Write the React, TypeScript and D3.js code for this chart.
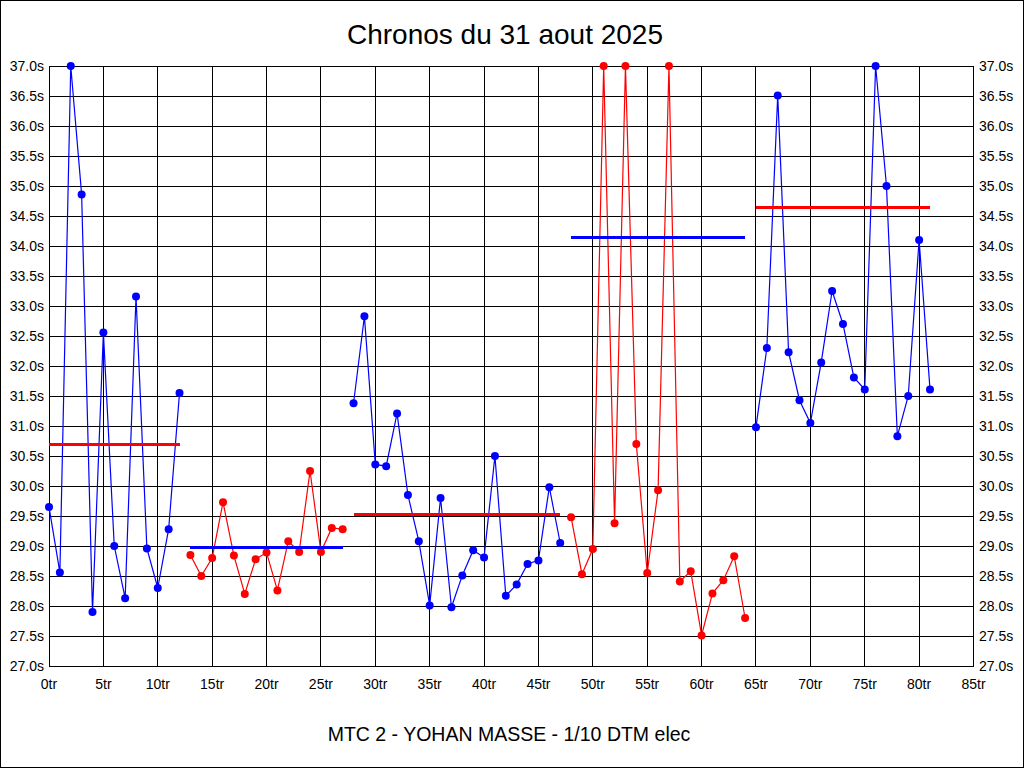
import React from "react";
import * as d3 from "d3";

// Lap times per run (seconds); points above 37.0 are shown clipped at 37.0
const run1Laps = [0, 1, 2, 3, 4, 5, 6, 7, 8, 9, 10, 11, 12];
const run1Times = [29.65, 28.56, 37.0, 34.86, 27.9, 32.56, 29.0, 28.13, 33.16, 28.96, 28.3, 29.28, 31.55];

const run2Laps = [13, 14, 15, 16, 17, 18, 19, 20, 21, 22, 23, 24, 25, 26, 27];
const run2Times = [28.85, 28.5, 28.8, 29.73, 28.84, 28.2, 28.78, 28.89, 28.26, 29.08, 28.9, 30.25, 28.9, 29.3, 29.28];

const run3Laps = [28, 29, 30, 31, 32, 33, 34, 35, 36, 37, 38, 39, 40, 41, 42, 43, 44, 45, 46, 47];
const run3Times = [31.38, 32.83, 30.36, 30.33, 31.21, 29.85, 29.08, 28.01, 29.8, 27.98, 28.51, 28.93, 28.81, 30.5, 28.17, 28.36, 28.7, 28.76, 29.98, 29.05];

const run4Laps = [48, 49, 50, 51, 52, 53, 54, 55, 56, 57, 58, 59, 60, 61, 62, 63, 64];
const run4Times = [29.48, 28.53, 28.95, 37.0, 29.38, 37.0, 30.7, 28.55, 29.93, 37.0, 28.41, 28.58, 27.51, 28.21, 28.43, 28.83, 27.8];

const run5Laps = [65, 66, 67, 68, 69, 70, 71, 72, 73, 74, 75, 76, 77, 78, 79, 80, 81];
const run5Times = [30.98, 32.3, 36.51, 32.23, 31.43, 31.05, 32.06, 33.25, 32.7, 31.81, 31.61, 37.0, 35.0, 30.83, 31.5, 34.1, 31.61];

const runAverages = [30.7, 28.97, 29.53, 34.15, 34.65];
const runColors = ["#0000ff", "#ff0000", "#0000ff", "#ff0000", "#0000ff"];
const avgColors = ["#ff0000", "#0000ff", "#ff0000", "#0000ff", "#ff0000"];

const xTicks = [0, 5, 10, 15, 20, 25, 30, 35, 40, 45, 50, 55, 60, 65, 70, 75, 80, 85];
const yTicks = [27.0, 27.5, 28.0, 28.5, 29.0, 29.5, 30.0, 30.5, 31.0, 31.5, 32.0, 32.5, 33.0, 33.5, 34.0, 34.5, 35.0, 35.5, 36.0, 36.5, 37.0];

const title = "Chronos du 31 aout 2025";
const subtitle = "MTC 2 - YOHAN MASSE - 1/10 DTM elec";

const runs = [
  { laps: run1Laps, times: run1Times },
  { laps: run2Laps, times: run2Times },
  { laps: run3Laps, times: run3Times },
  { laps: run4Laps, times: run4Times },
  { laps: run5Laps, times: run5Times },
];

export default function App() {
  const W = 1024;
  const H = 768;
  const x = d3.scaleLinear().domain([0, 85]).range([49, 973.5]);
  const y = d3.scaleLinear().domain([27, 37]).range([666, 66]);
  const font = "'Liberation Sans', Arial, sans-serif";
  const line = d3
    .line<[number, number]>()
    .x((d) => x(d[0]))
    .y((d) => y(d[1]));

  return (
    <svg
      width={W}
      height={H}
      style={{ position: "absolute", left: 0, top: 0, background: "#fff" }}
    >
      <rect x={0.5} y={0.5} width={W - 1} height={H - 1} fill="#fff" stroke="#000" />
      <text x={505} y={44} textAnchor="middle" fontFamily={font} fontSize={28} fill="#000">
        {title}
      </text>
      {/* grid */}
      <g shapeRendering="crispEdges" stroke="#000" strokeWidth={1}>
        {yTicks.map((t) => (
          <line key={"gy" + t} x1={x(0)} x2={x(85)} y1={y(t)} y2={y(t)} />
        ))}
        {xTicks.map((t) => (
          <line key={"gx" + t} x1={x(t)} x2={x(t)} y1={y(37)} y2={y(27)} />
        ))}
      </g>
      {/* y labels */}
      <g fontFamily={font} fontSize={14} fill="#000">
        {yTicks.map((t) => (
          <text key={"ly" + t} x={44} y={y(t)} dy="0.35em" textAnchor="end">
            {t.toFixed(1) + "s"}
          </text>
        ))}
        {yTicks.map((t) => (
          <text key={"ry" + t} x={979} y={y(t)} dy="0.35em" textAnchor="start">
            {t.toFixed(1) + "s"}
          </text>
        ))}
        {xTicks.map((t) => (
          <text key={"lx" + t} x={x(t)} y={689} textAnchor="middle">
            {t + "tr"}
          </text>
        ))}
      </g>
      {/* runs */}
      {runs.map((r, i) => {
        const pts: [number, number][] = r.laps.map((l, j) => [l, r.times[j]]);
        return (
          <g key={"run" + i}>
            <path d={line(pts) || ""} fill="none" stroke={runColors[i]} strokeWidth={1.2} />
            {pts.map((p, j) => (
              <circle key={j} cx={x(p[0])} cy={y(p[1])} r={4} fill={runColors[i]} />
            ))}
          </g>
        );
      })}
      {/* averages */}
      <g shapeRendering="crispEdges">
        {runs.map((r, i) => (
          <line
            key={"avg" + i}
            x1={x(r.laps[0])}
            x2={x(r.laps[r.laps.length - 1])}
            y1={y(runAverages[i])}
            y2={y(runAverages[i])}
            stroke={avgColors[i]}
            strokeWidth={3}
          />
        ))}
      </g>
      <text x={509} y={741} textAnchor="middle" fontFamily={font} fontSize={19.5} fill="#000">
        {subtitle}
      </text>
    </svg>
  );
}
